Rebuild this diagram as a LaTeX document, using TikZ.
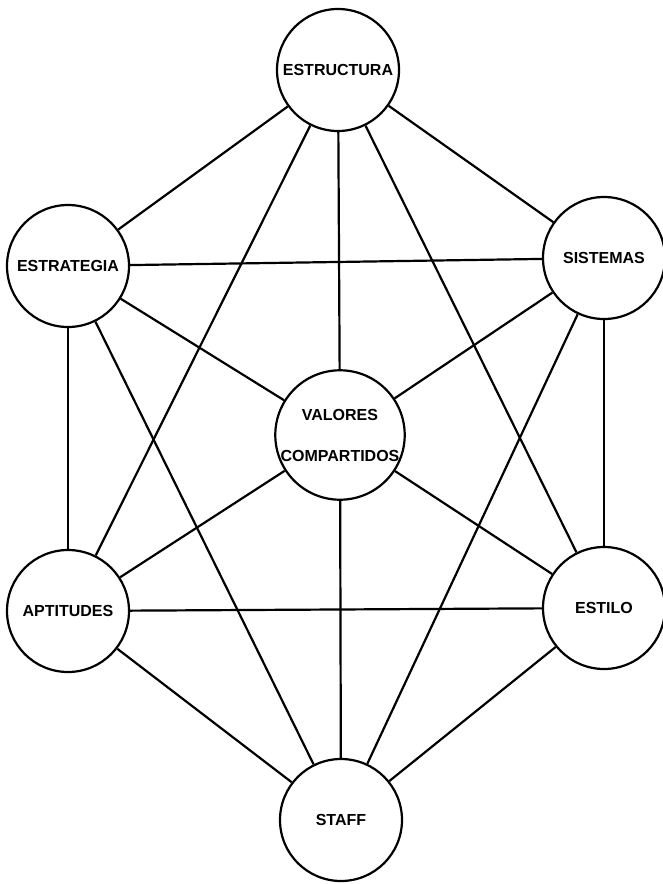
\documentclass[tikz,border=0pt]{standalone}
\usepackage{fontspec}
\setmainfont{Liberation Sans}
\usetikzlibrary{positioning}

\begin{document}
\begin{tikzpicture}[x=1pt, y=-1pt,
    factor/.style={circle, draw, line width=2.2pt, minimum size=122pt, inner sep=0pt, font=\bfseries\fontsize{16}{19}\selectfont},
    link/.style={line width=2.2pt}
]
\useasboundingbox (0,0) rectangle (662,884);

% the seven factors
\node[factor] (estructura) at (338,70) {ESTRUCTURA};
\node[factor] (estrategia) at (68,266) {ESTRATEGIA};
\node[factor] (sistemas) at (604,258) {SISTEMAS};
\node[factor, align=center] (valores) at (340,435) {VALORES\\[22pt]COMPARTIDOS};
\node[factor] (aptitudes) at (68,611) {APTITUDES};
\node[factor] (estilo) at (604,608) {ESTILO};
\node[factor] (staff) at (341,820) {STAFF};

% outer ring
\draw[link] (estructura) -- (estrategia);
\draw[link] (estructura) -- (sistemas);
\draw[link] (estrategia) -- (aptitudes);
\draw[link] (sistemas) -- (estilo);
\draw[link] (aptitudes) -- (staff);
\draw[link] (estilo) -- (staff);

% spokes to the centre
\draw[link] (valores) -- (estructura);
\draw[link] (valores) -- (estrategia);
\draw[link] (valores) -- (sistemas);
\draw[link] (valores) -- (aptitudes);
\draw[link] (valores) -- (estilo);
\draw[link] (valores) -- (staff);

% cross links
\draw[link] (estrategia) -- (sistemas);
\draw[link] (aptitudes) -- (estilo);
\draw[link] (estructura) -- (aptitudes);
\draw[link] (estructura) -- (estilo);
\draw[link] (estrategia) -- (staff);
\draw[link] (sistemas) -- (staff);

\end{tikzpicture}
\end{document}
